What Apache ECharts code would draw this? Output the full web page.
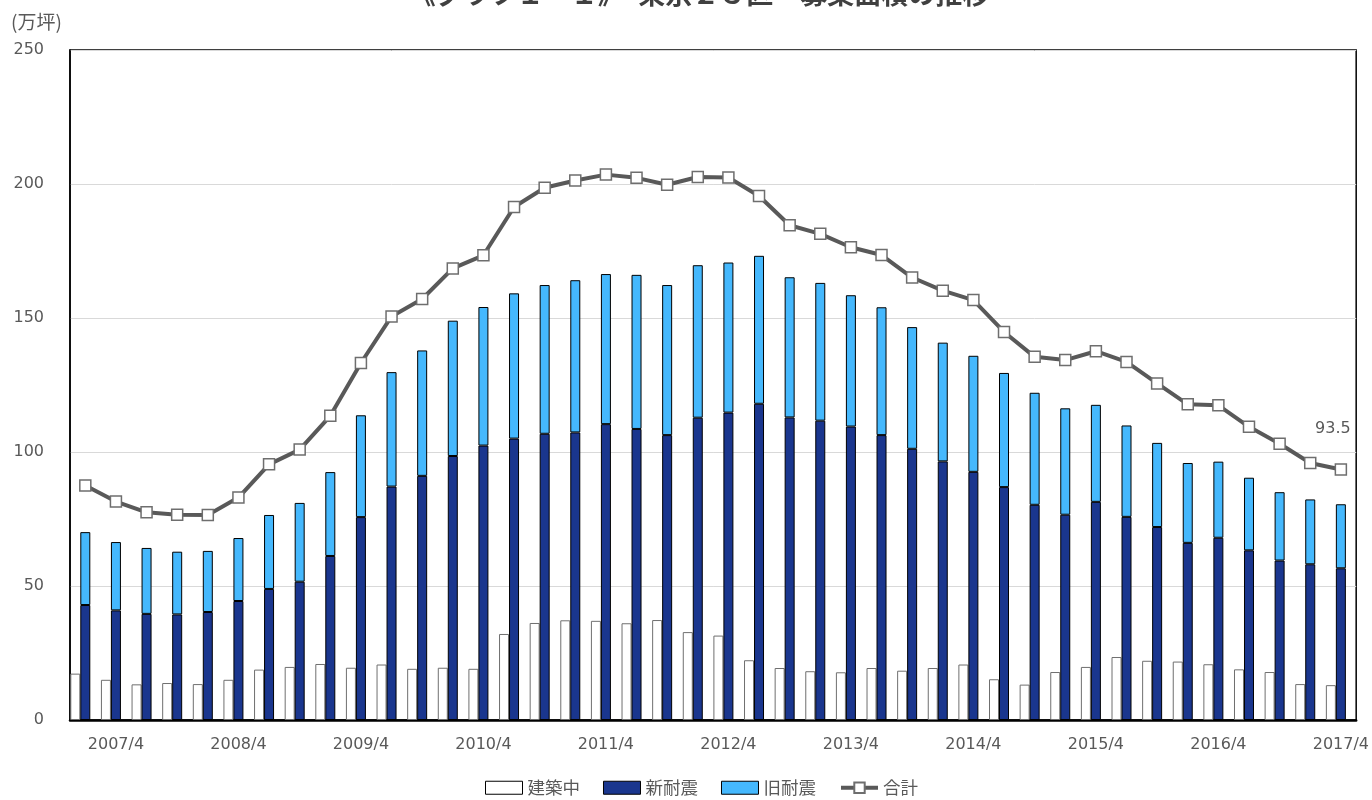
<!DOCTYPE html>
<html>
<head>
<meta charset="utf-8">
<script src="https://cdn.jsdelivr.net/npm/echarts@6/dist/echarts.min.js"></script>
<style>
  html, body { margin: 0; padding: 0; background: #fff; }
  #chart { width: 1372px; height: 800px; }
</style>
</head>
<body>
<div id="chart"></div>
<script>
// Quarterly periods (year/month), 2007/1 – 2017/4
const categories = [
  '2007/1','2007/4','2007/7','2007/10',
  '2008/1','2008/4','2008/7','2008/10',
  '2009/1','2009/4','2009/7','2009/10',
  '2010/1','2010/4','2010/7','2010/10',
  '2011/1','2011/4','2011/7','2011/10',
  '2012/1','2012/4','2012/7','2012/10',
  '2013/1','2013/4','2013/7','2013/10',
  '2014/1','2014/4','2014/7','2014/10',
  '2015/1','2015/4','2015/7','2015/10',
  '2016/1','2016/4','2016/7','2016/10',
  '2017/1','2017/4'
];

// 建築中 (万坪)
const underConstruction = [
  17.3, 15.0, 13.3, 13.8, 13.4, 15.0, 18.8, 19.8, 20.9, 19.5,
  20.7, 19.1, 19.5, 19.1, 32.1, 36.2, 37.2, 37.0, 36.1, 37.3,
  32.8, 31.5, 22.3, 19.4, 18.2, 17.8, 19.4, 18.4, 19.4, 20.7,
  15.2, 13.2, 17.9, 19.8, 23.5, 22.1, 21.8, 20.8, 18.9, 17.9,
  13.4, 13.0
];

// 新耐震 (万坪)
const newSeismic = [
  42.9, 40.9, 39.6, 39.4, 40.3, 44.4, 48.9, 51.6, 61.2, 75.7,
  87.1, 91.1, 98.5, 102.4, 105.0, 106.8, 107.3, 110.4, 108.6, 106.3,
  112.8, 114.7, 118.0, 112.9, 111.7, 109.5, 106.3, 101.2, 96.5, 92.6,
  86.9, 80.3, 76.6, 81.4, 75.8, 72.0, 66.1, 68.0, 63.3, 59.5,
  58.1, 56.6
];

// 旧耐震 (万坪)
const oldSeismic = [
  27.2, 25.5, 24.6, 23.4, 22.8, 23.5, 27.6, 29.4, 31.3, 38.0,
  42.7, 46.8, 50.5, 51.7, 54.2, 55.5, 56.8, 56.0, 57.5, 56.0,
  56.9, 56.0, 55.2, 52.3, 51.4, 49.0, 47.7, 45.4, 44.3, 43.3,
  42.6, 41.8, 39.7, 36.2, 34.1, 31.4, 29.8, 28.4, 27.1, 25.5,
  24.2, 23.9
];

// 合計 (万坪)
const total = [
  87.5, 81.5, 77.5, 76.6, 76.5, 83.0, 95.4, 100.9, 113.5, 133.2,
  150.6, 157.1, 168.5, 173.4, 191.4, 198.6, 201.3, 203.5, 202.3, 199.7,
  202.6, 202.4, 195.5, 184.6, 181.4, 176.4, 173.5, 165.1, 160.2, 156.7,
  144.8, 135.5, 134.3, 137.6, 133.6, 125.6, 117.8, 117.4, 109.4, 103.1,
  95.9, 93.5
];

const yTicks = { min: 0, max: 250, interval: 50 };

const FONT = "'DejaVu Sans', 'Noto Sans CJK JP', sans-serif";
const CJK = "'Noto Sans CJK JP', sans-serif";
const TXT = '#595959';

const chart = echarts.init(document.getElementById('chart'), null, { renderer: 'canvas' });

// empty slot that keeps the stacked column centred on each period
const spacer = categories.map(() => '-');

const lastIdx = total.length - 1;

chart.setOption({
  animation: false,
  backgroundColor: '#fff',
  textStyle: { fontFamily: FONT },
  graphic: [
    {
      // chart heading, sitting at the very top edge of the canvas
      type: 'text',
      x: 699,
      y: -6,
      style: {
        text: '《グラフ１－１》　東京２３区　募集面積の推移',
        fontFamily: CJK, fontSize: 27, fontWeight: 'bold', fill: '#404040',
        align: 'center', verticalAlign: 'middle'
      }
    },
    {
      type: 'text',
      left: 11,
      top: 12,
      style: { text: '(万坪)', fontFamily: CJK, fontSize: 19, fill: TXT }
    }
  ],
  legend: {
    data: [
      { name: '建築中', icon: 'rect', itemStyle: { borderColor: '#000', borderWidth: 1 } },
      { name: '新耐震', icon: 'rect', itemStyle: { borderColor: '#000', borderWidth: 1 } },
      { name: '旧耐震', icon: 'rect', itemStyle: { borderColor: '#000', borderWidth: 1 } },
      { name: '合計', lineStyle: { width: 4, color: '#595959' } }
    ],
    left: 480,
    top: 774,
    itemWidth: 37,
    itemHeight: 13,
    itemGap: 23,
    textStyle: { fontFamily: CJK, fontSize: 17.5, color: TXT }
  },
  grid: {
    left: 70,
    right: 15,
    top: 50,
    bottom: 80,
    show: true,
    borderColor: '#000',
    borderWidth: 1.5,
    containLabel: false
  },
  xAxis: {
    type: 'category',
    data: categories,
    boundaryGap: true,
    axisLine: { lineStyle: { color: '#000', width: 2.5 } },
    axisTick: { show: false },
    axisLabel: {
      interval: 0,
      formatter: (v, i) => (i % 4 === 1 ? v : ''),
      color: TXT,
      fontSize: 16,
      margin: 17,
      fontFamily: FONT
    }
  },
  yAxis: {
    type: 'value',
    min: yTicks.min,
    max: yTicks.max,
    interval: yTicks.interval,
    axisLine: { show: true, lineStyle: { color: '#000', width: 1.5 } },
    axisTick: { show: false },
    splitLine: { lineStyle: { color: '#d9d9d9', width: 1 } },
    axisLabel: { color: TXT, fontSize: 16, margin: 26, fontFamily: FONT }
  },
  series: [
    {
      name: '建築中',
      type: 'bar',
      stack: 'construction',
      barWidth: 10,
      barGap: '0%',
      data: underConstruction,
      itemStyle: { color: '#ffffff', borderColor: '#6f6f6f', borderWidth: 1 }
    },
    {
      name: '新耐震',
      type: 'bar',
      stack: 'existing',
      barWidth: 10,
      barGap: '0%',
      data: newSeismic,
      itemStyle: { color: '#1a368e', borderColor: '#000', borderWidth: 1 }
    },
    {
      name: '旧耐震',
      type: 'bar',
      stack: 'existing',
      barWidth: 10,
      barGap: '0%',
      data: oldSeismic,
      itemStyle: { color: '#45b8fd', borderColor: '#000', borderWidth: 1 }
    },
    {
      name: 'spacer',
      type: 'bar',
      stack: 'spacer',
      barWidth: 10,
      barGap: '0%',
      data: spacer,
      silent: true,
      itemStyle: { color: 'transparent' }
    },
    {
      name: '合計',
      type: 'line',
      data: total.map((v, i) => i === lastIdx
        ? { value: v, label: { show: true, position: 'top', distance: 26, offset: [-8, 0], formatter: '{c}', color: TXT, fontSize: 16, fontFamily: FONT } }
        : v),
      z: 5,
      symbol: 'rect',
      symbolSize: 11,
      lineStyle: { color: '#595959', width: 4 },
      itemStyle: { color: '#ffffff', borderColor: '#6e6e6e', borderWidth: 1.5 }
    }
  ]
});
</script>
</body>
</html>
